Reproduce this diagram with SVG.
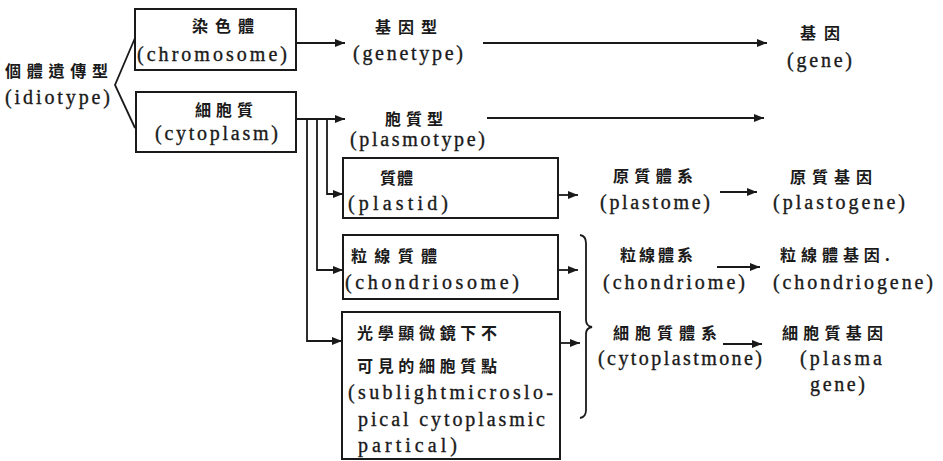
<svg xmlns="http://www.w3.org/2000/svg" width="943" height="461" viewBox="0 0 943 461">
<style>
.bg{fill:#ffffff}
.box{fill:none;stroke:#1a1a1a;stroke-width:2}
.ln{fill:none;stroke:#1a1a1a;stroke-width:1.8}
.en{font-family:"Liberation Serif","Times New Roman",serif;font-size:20px;fill:#1a1a1a;stroke:#1a1a1a;stroke-width:0.35}
.zh{font-family:"Noto Sans CJK TC","Noto Sans CJK SC",sans-serif;font-size:16px;font-weight:700;fill:#1a1a1a}
</style>
<defs>
<marker id="ah" markerUnits="userSpaceOnUse" markerWidth="10" markerHeight="8" refX="10" refY="4" orient="auto">
<path d="M0,0 L10,4 L0,8 z" fill="#1a1a1a"/>
</marker>
</defs>
<rect class="bg" x="0" y="0" width="943" height="461"/>

<g id="idiotype">
<text class="zh" x="5" y="77" textLength="103" lengthAdjust="spacing">個體遺傳型</text>
<text class="en" x="5" y="104" textLength="105" lengthAdjust="spacing">(idiotype)</text>
</g>

<g id="chromosome">
<rect class="box" x="135" y="9" width="161" height="61"/>
<text class="zh" x="192" y="32" textLength="62" lengthAdjust="spacing">染色體</text>
<text class="en" x="137" y="61" textLength="150" lengthAdjust="spacing">(chromosome)</text>
</g>

<g id="cytoplasm">
<rect class="box" x="136" y="92" width="160" height="60"/>
<text class="zh" x="195" y="116" textLength="58" lengthAdjust="spacing">細胞質</text>
<text class="en" x="155" y="140" textLength="123" lengthAdjust="spacing">(cytoplasm)</text>
</g>

<g id="genetype">
<text class="zh" x="375" y="33" textLength="62" lengthAdjust="spacing">基因型</text>
<text class="en" x="353" y="60" textLength="110" lengthAdjust="spacing">(genetype)</text>
</g>

<g id="gene">
<text class="zh" x="800" y="39" textLength="40" lengthAdjust="spacing">基因</text>
<text class="en" x="787" y="67" textLength="65" lengthAdjust="spacing">(gene)</text>
</g>

<g id="plasmotype">
<text class="zh" x="385" y="125" textLength="58" lengthAdjust="spacing">胞質型</text>
<text class="en" x="350" y="146" textLength="135" lengthAdjust="spacing">(plasmotype)</text>
</g>

<g id="plastid">
<rect class="box" x="343" y="158" width="215" height="60"/>
<text class="zh" x="380" y="184" textLength="33" lengthAdjust="spacing">質體</text>
<text class="en" x="348" y="210" textLength="100" lengthAdjust="spacing">(plastid)</text>
</g>

<g id="chondriosome">
<rect class="box" x="343" y="235" width="215" height="64"/>
<text class="zh" x="351" y="262" textLength="86" lengthAdjust="spacing">粒線質體</text>
<text class="en" x="345" y="289" textLength="174" lengthAdjust="spacing">(chondriosome)</text>
</g>

<g id="particle">
<rect class="box" x="342" y="312" width="218" height="147"/>
<text class="zh" x="357" y="339" textLength="140" lengthAdjust="spacing">光學顯微鏡下不</text>
<text class="zh" x="357" y="372" textLength="140" lengthAdjust="spacing">可見的細胞質點</text>
<text class="en" x="348" y="399" textLength="205" lengthAdjust="spacing">(sublightmicroslo-</text>
<text class="en" x="358" y="426" textLength="187" lengthAdjust="spacing">pical cytoplasmic</text>
<text class="en" x="358" y="452" textLength="99" lengthAdjust="spacing">partical)</text>
</g>

<g id="plastome">
<text class="zh" x="613" y="182" textLength="80" lengthAdjust="spacing">原質體系</text>
<text class="en" x="600" y="209" textLength="110" lengthAdjust="spacing">(plastome)</text>
</g>

<g id="plastogene">
<text class="zh" x="790" y="183" textLength="82" lengthAdjust="spacing">原質基因</text>
<text class="en" x="773" y="209" textLength="132" lengthAdjust="spacing">(plastogene)</text>
</g>

<g id="chondriome">
<text class="zh" x="620" y="261" textLength="73" lengthAdjust="spacing">粒線體系</text>
<text class="en" x="603" y="289" textLength="142" lengthAdjust="spacing">(chondriome)</text>
</g>

<g id="chondriogene">
<text class="zh" x="780" y="261" textLength="110" lengthAdjust="spacing">粒線體基因.</text>
<text class="en" x="773" y="289" textLength="160" lengthAdjust="spacing">(chondriogene)</text>
</g>

<g id="cytoplastmone">
<text class="zh" x="613" y="339" textLength="104" lengthAdjust="spacing">細胞質體系</text>
<text class="en" x="598" y="365" textLength="164" lengthAdjust="spacing">(cytoplastmone)</text>
</g>

<g id="plasmagene">
<text class="zh" x="782" y="339" textLength="101" lengthAdjust="spacing">細胞質基因</text>
<text class="en" x="800" y="365" textLength="82" lengthAdjust="spacing">(plasma</text>
<text class="en" x="810" y="391" textLength="55" lengthAdjust="spacing">gene)</text>
</g>

<g id="connectors">
<path class="ln" d="M135,38 L115,85 L135,128"/>
<path class="ln" d="M296,43 H345" marker-end="url(#ah)"/>
<path class="ln" d="M483,43 H767" marker-end="url(#ah)"/>
<path class="ln" d="M296,119 H345" marker-end="url(#ah)"/>
<path class="ln" d="M487,118 H764" marker-end="url(#ah)"/>
<path class="ln" d="M327,119 V194 H343" marker-end="url(#ah)"/>
<path class="ln" d="M317,119 V270 H343" marker-end="url(#ah)"/>
<path class="ln" d="M307,119 V341 H342" marker-end="url(#ah)"/>
<path class="ln" d="M558,195 H578" marker-end="url(#ah)"/>
<path class="ln" d="M558,270 H578" marker-end="url(#ah)"/>
<path class="ln" d="M560,343 H580" marker-end="url(#ah)"/>
<path class="ln" d="M720,192 H757" marker-end="url(#ah)"/>
<path class="ln" d="M717,267 H760" marker-end="url(#ah)"/>
<path class="ln" d="M723,344 H762" marker-end="url(#ah)"/>
<path class="ln" d="M580,235 Q586,236 586,243 V320 Q586,326 592,327 Q586,328 586,334 V410 Q586,417 580,418"/>
</g>
</svg>
